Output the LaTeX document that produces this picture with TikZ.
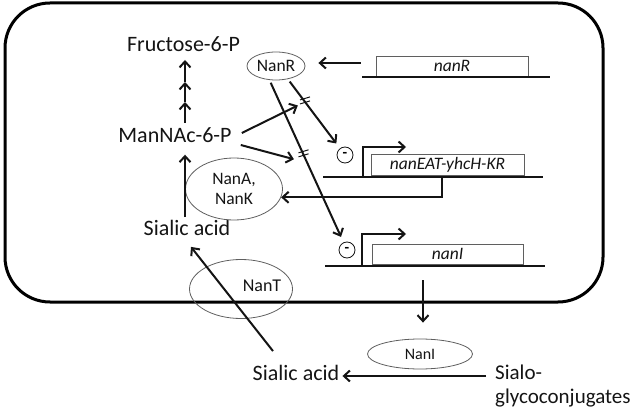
\documentclass[tikz,border=0pt]{standalone}
\usepackage{fontspec}
\setmainfont{Carlito}
\usepackage{tikz}
\usetikzlibrary{arrows.meta, shapes.geometric, positioning, calc}
\definecolor{mydark}{RGB}{20,20,20}
\definecolor{mygray}{RGB}{95,95,95}
\tikzset{
  metab/.style={font=\fontsize{22}{26}\selectfont, text=mydark, inner sep=3pt},
  enzyme/.style={ellipse, draw=mygray, line width=0.8pt, inner sep=0pt,
    align=center, font=\fontsize{17.5}{20}\selectfont, text=mydark},
  gene/.style={rectangle, draw=mygray, line width=0.8pt, inner sep=0pt,
    font=\fontsize{17.5}{20}\selectfont\itshape, text=mydark},
  repr/.style={circle, draw=mydark, line width=0.8pt, minimum size=16pt,
    inner sep=0pt, font=\fontsize{15}{15}\selectfont\bfseries},
  arrow/.style={-{Straight Barb[length=6pt,width=11pt]}, line width=2pt, color=mydark},
  dna/.style={line width=2pt, color=mydark},
  hashmark/.style={line width=1pt, color=mydark}
}

\begin{document}
\begin{tikzpicture}[x=1pt, y=-1pt]
  \useasboundingbox (0,0) rectangle (644,411);
  % Cell
  \draw[line width=3pt, rounded corners=45pt] (5,3) rectangle (603,302);

  % Metabolites
  \node[metab] (fru) at (183.5,44) {Fructose-6-P};
  \node[metab] (man) at (175,135) {ManNAc-6-P};
  \node[metab] (sia) at (187,228) {Sialic acid};
  \node[metab] (siaout) at (296,373) {Sialic acid};
  \node[metab, align=left, anchor=west, font=\fontsize{21}{24}\selectfont]
    (glyco) at (492,386) {Sialo-\\glycoconjugates};

  % Enzymes
  \node[enzyme, minimum width=58pt, minimum height=28pt] (nanr) at (276,66) {NanR};
  \node[enzyme, minimum width=97pt, minimum height=62pt] (nanak) at (234,189) {NanA,\\NanK};
  \node[enzyme, minimum width=103pt, minimum height=59pt] (nant) at (241,289) {};
  \node[font=\fontsize{18}{20}\selectfont, text=mydark] (nantlbl) at (262,286) {NanT};
  \node[enzyme, minimum width=105pt, minimum height=30pt,
    font=\fontsize{16}{18}\selectfont] (nani) at (420,354) {NanI};

  % Genes
  \node[gene, minimum width=152pt, minimum height=20pt] (genr) at (452,66) {nanR};
  \node[gene, minimum width=153pt, minimum height=21pt] (geneat) at (447.5,164.5) {nanEAT-yhcH-KR};
  \node[gene, minimum width=151pt, minimum height=20pt] (geni) at (447.5,254) {nanI};
  \draw[dna] (362,77) -- (550,77);
  \draw[dna] (323,177) -- (543,177);
  \draw[dna] (325,266) -- (545,266);

  % Promoters
  \node[repr] (rep1) at (345,155) {-};
  \node[repr] (rep2) at (347,250) {-};
  \coordinate (peat) at (363,177);
  \coordinate (pi) at (362,266);
  \draw[arrow] (peat) |- (406,147);
  \draw[arrow] (pi) |- (406,234);
  \coordinate (eatout) at (442,177);
  \coordinate (iout) at (423,280);

  % Pathway
  \foreach \ya/\yb in {123/102, 102/82, 82/60}
    \draw[arrow] (185,\ya) -- (185,\yb);
  \draw[arrow, shorten >=9pt] (sia.north -| 185,0) -- (man.south -| 185,0);
  \draw[arrow] (eatout) |- (nanak.-10);
  \draw[arrow] ([xshift=-15pt, yshift=3pt]genr.west) -- ([xshift=13pt, yshift=3pt]nanr.east);

  % NanR repression
  \draw[arrow, shorten <=3pt, shorten >=6pt] (nanr.245) -- (rep2);
  \draw[arrow, shorten <=3pt, shorten >=6pt] (nanr.312) -- (rep1);
  \coordinate (hashb) at ($(nanr.312)!0.3!(rep1)$);
  \coordinate (hasha) at ($(nanr.245)!0.44!(rep2)$);
  \foreach \h in {hasha, hashb}
    \foreach \d in {-2,2}
      \draw[hashmark] ([shift={(-5,\d)}]\h) -- ++(10,-3);

  % ManNAc-6-P releases NanR
  \draw[arrow, shorten >=8pt] ([xshift=7pt, yshift=2pt]man.east) -- (hashb);
  \draw[arrow, shorten >=10pt] ([xshift=6pt, yshift=-10pt]man.east) -- ([yshift=-7pt]hasha);

  % Uptake
  \draw[arrow, shorten >=16pt] (iout) -- (iout |- nani.north);
  \draw[arrow] ($(glyco.west |- siaout.east)+(-6,3)$) -- ([yshift=-3pt]siaout.east);
  \draw[arrow] ([xshift=-23pt, yshift=11pt]siaout.north) -- ([xshift=4pt, yshift=-8pt]sia.south);
\end{tikzpicture}
\end{document}
